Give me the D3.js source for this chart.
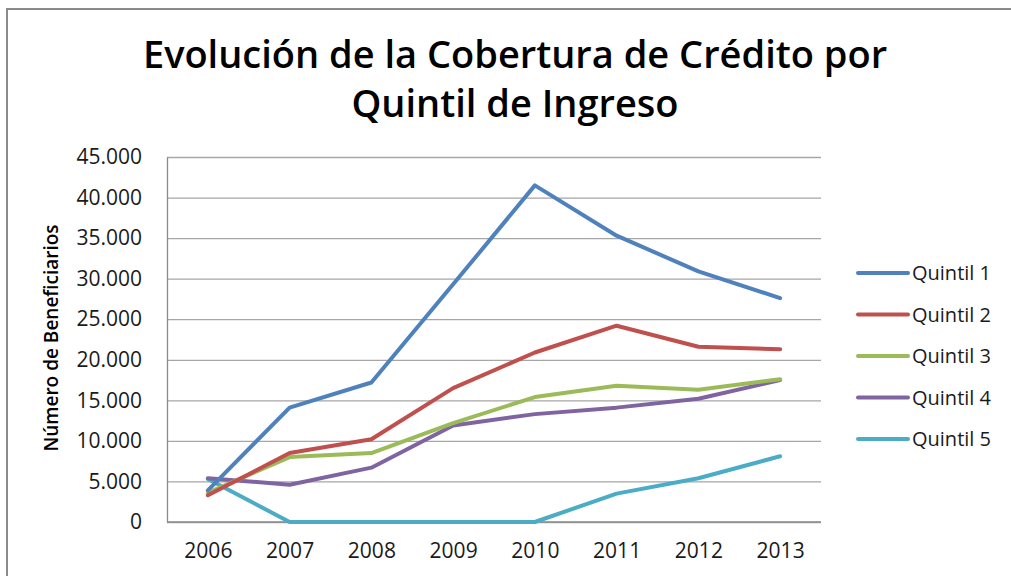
<!DOCTYPE html>
<html lang="es">
<head>
<meta charset="UTF-8">
<title>Evolución de la Cobertura de Crédito</title>
<style>
  body { margin: 0; background: #fff; }
  svg { display: block; font-family: "Open Sans", sans-serif; }
</style>
</head>
<body>
<script src="https://d3js.org/d3.v7.min.js"></script>
<script>
    let years = ['2006', '2007', '2008', '2009', '2010', '2011', '2012', '2013'];
    let seriesNames = ['Quintil 1', 'Quintil 2', 'Quintil 3', 'Quintil 4', 'Quintil 5'];
    let quintil1 = [3900, 14100, 17200, 29300, 41500, 35300, 30900, 27600];
    let quintil2 = [3300, 8500, 10200, 16500, 20900, 24200, 21600, 21300];
    let quintil3 = [3600, 8000, 8500, 12200, 15400, 16800, 16300, 17600];
    let quintil4 = [5400, 4600, 6700, 11900, 13300, 14100, 15200, 17500];
    let quintil5 = [5300, 0, 0, 0, 0, 3500, 5400, 8100];
    let yTicks = [0, 5000, 10000, 15000, 20000, 25000, 30000, 35000, 40000, 45000];
    let colors = ['#4F81BD', '#C0504D', '#9BBB59', '#8064A2', '#4BACC6'];

    let width = 1011;
    let height = 576;
    let plot = { left: 167, right: 821, top: 157, bottom: 522 };

    let series = [quintil1, quintil2, quintil3, quintil4, quintil5].map((vals, i) => ({
        name: seriesNames[i],
        color: colors[i],
        values: vals.map((v, j) => ({ year: years[j], value: v }))
    }));

    let svg = d3.select('body').append('svg')
        .attr('width', width)
        .attr('height', height);

    // chart frame (runs off the right and bottom edges)
    svg.append('rect')
        .attr('x', 7).attr('y', 9)
        .attr('width', width + 20).attr('height', height + 20)
        .attr('fill', 'none')
        .attr('stroke', '#8a8a8a')
        .attr('stroke-width', 2);

    let x = d3.scalePoint()
        .domain(years)
        .range([plot.left, plot.right])
        .padding(0.5);

    let y = d3.scaleLinear()
        .domain([0, 45000])
        .range([plot.bottom, plot.top]);

    let fmt = d => d3.format(',')(d).replace(/,/g, '.');

    // gridlines
    svg.append('g')
        .attr('transform', 'translate(' + plot.left + ',0)')
        .call(d3.axisLeft(y).tickValues(yTicks).tickSize(-(plot.right - plot.left)).tickFormat(''))
        .call(g => g.select('.domain').remove())
        .call(g => g.selectAll('line').attr('stroke', '#a6a6a6').attr('stroke-width', 1.3));

    // y axis labels
    let yAxis = svg.append('g')
        .attr('transform', 'translate(' + plot.left + ',0)')
        .call(d3.axisLeft(y).tickValues(yTicks).tickSize(0).tickPadding(25).tickFormat(fmt));
    yAxis.select('.domain').attr('stroke', '#8a8a8a').attr('stroke-width', 1.3);
    yAxis.selectAll('text')
        .attr('font-size', 21)
        .attr('font-family', '"Open Sans", sans-serif')
        .attr('fill', '#1a1a1a');

    // x axis
    let xAxis = svg.append('g')
        .attr('transform', 'translate(0,' + plot.bottom + ')')
        .call(d3.axisBottom(x).tickSize(0).tickPadding(21));
    xAxis.select('.domain').attr('stroke', '#8a8a8a').attr('stroke-width', 1.3)
        .attr('d', 'M' + plot.left + ',0H' + plot.right);
    xAxis.selectAll('text')
        .attr('font-size', 21)
        .attr('font-family', '"Open Sans", sans-serif')
        .attr('fill', '#1a1a1a');

    // lines
    let line = d3.line()
        .x(d => x(d.year))
        .y(d => y(d.value));

    svg.append('g').selectAll('path')
        .data(series.slice().reverse())
        .enter()
        .append('path')
        .attr('d', d => line(d.values))
        .attr('fill', 'none')
        .attr('stroke', d => d.color)
        .attr('stroke-width', 4)
        .attr('stroke-linejoin', 'round')
        .attr('stroke-linecap', 'round');

    // title
    let title = svg.append('text')
        .attr('text-anchor', 'middle')
        .attr('font-size', 38)
        .attr('font-weight', 600)
        .attr('fill', '#000');
    title.append('tspan').attr('x', 515).attr('y', 68).text('Evolución de la Cobertura de Crédito por');
    title.append('tspan').attr('x', 515).attr('y', 117).text('Quintil de Ingreso');

    // y axis title
    svg.append('text')
        .attr('transform', 'translate(58,338) rotate(-90)')
        .attr('text-anchor', 'middle')
        .attr('font-size', 19)
        .attr('font-weight', 600)
        .attr('fill', '#000')
        .text('Número de Beneficiarios');

    // legend
    let legend = svg.append('g').selectAll('g')
        .data(series)
        .enter()
        .append('g')
        .attr('transform', (d, i) => 'translate(858,' + (273 + i * 41.5) + ')');
    legend.append('line')
        .attr('x1', 0).attr('x2', 50)
        .attr('stroke', d => d.color)
        .attr('stroke-width', 4)
        .attr('stroke-linecap', 'round');
    legend.append('text')
        .attr('x', 54)
        .attr('dy', '0.35em')
        .attr('font-size', 20)
        .attr('fill', '#1a1a1a')
        .text(d => d.name);
</script>
</body>
</html>
